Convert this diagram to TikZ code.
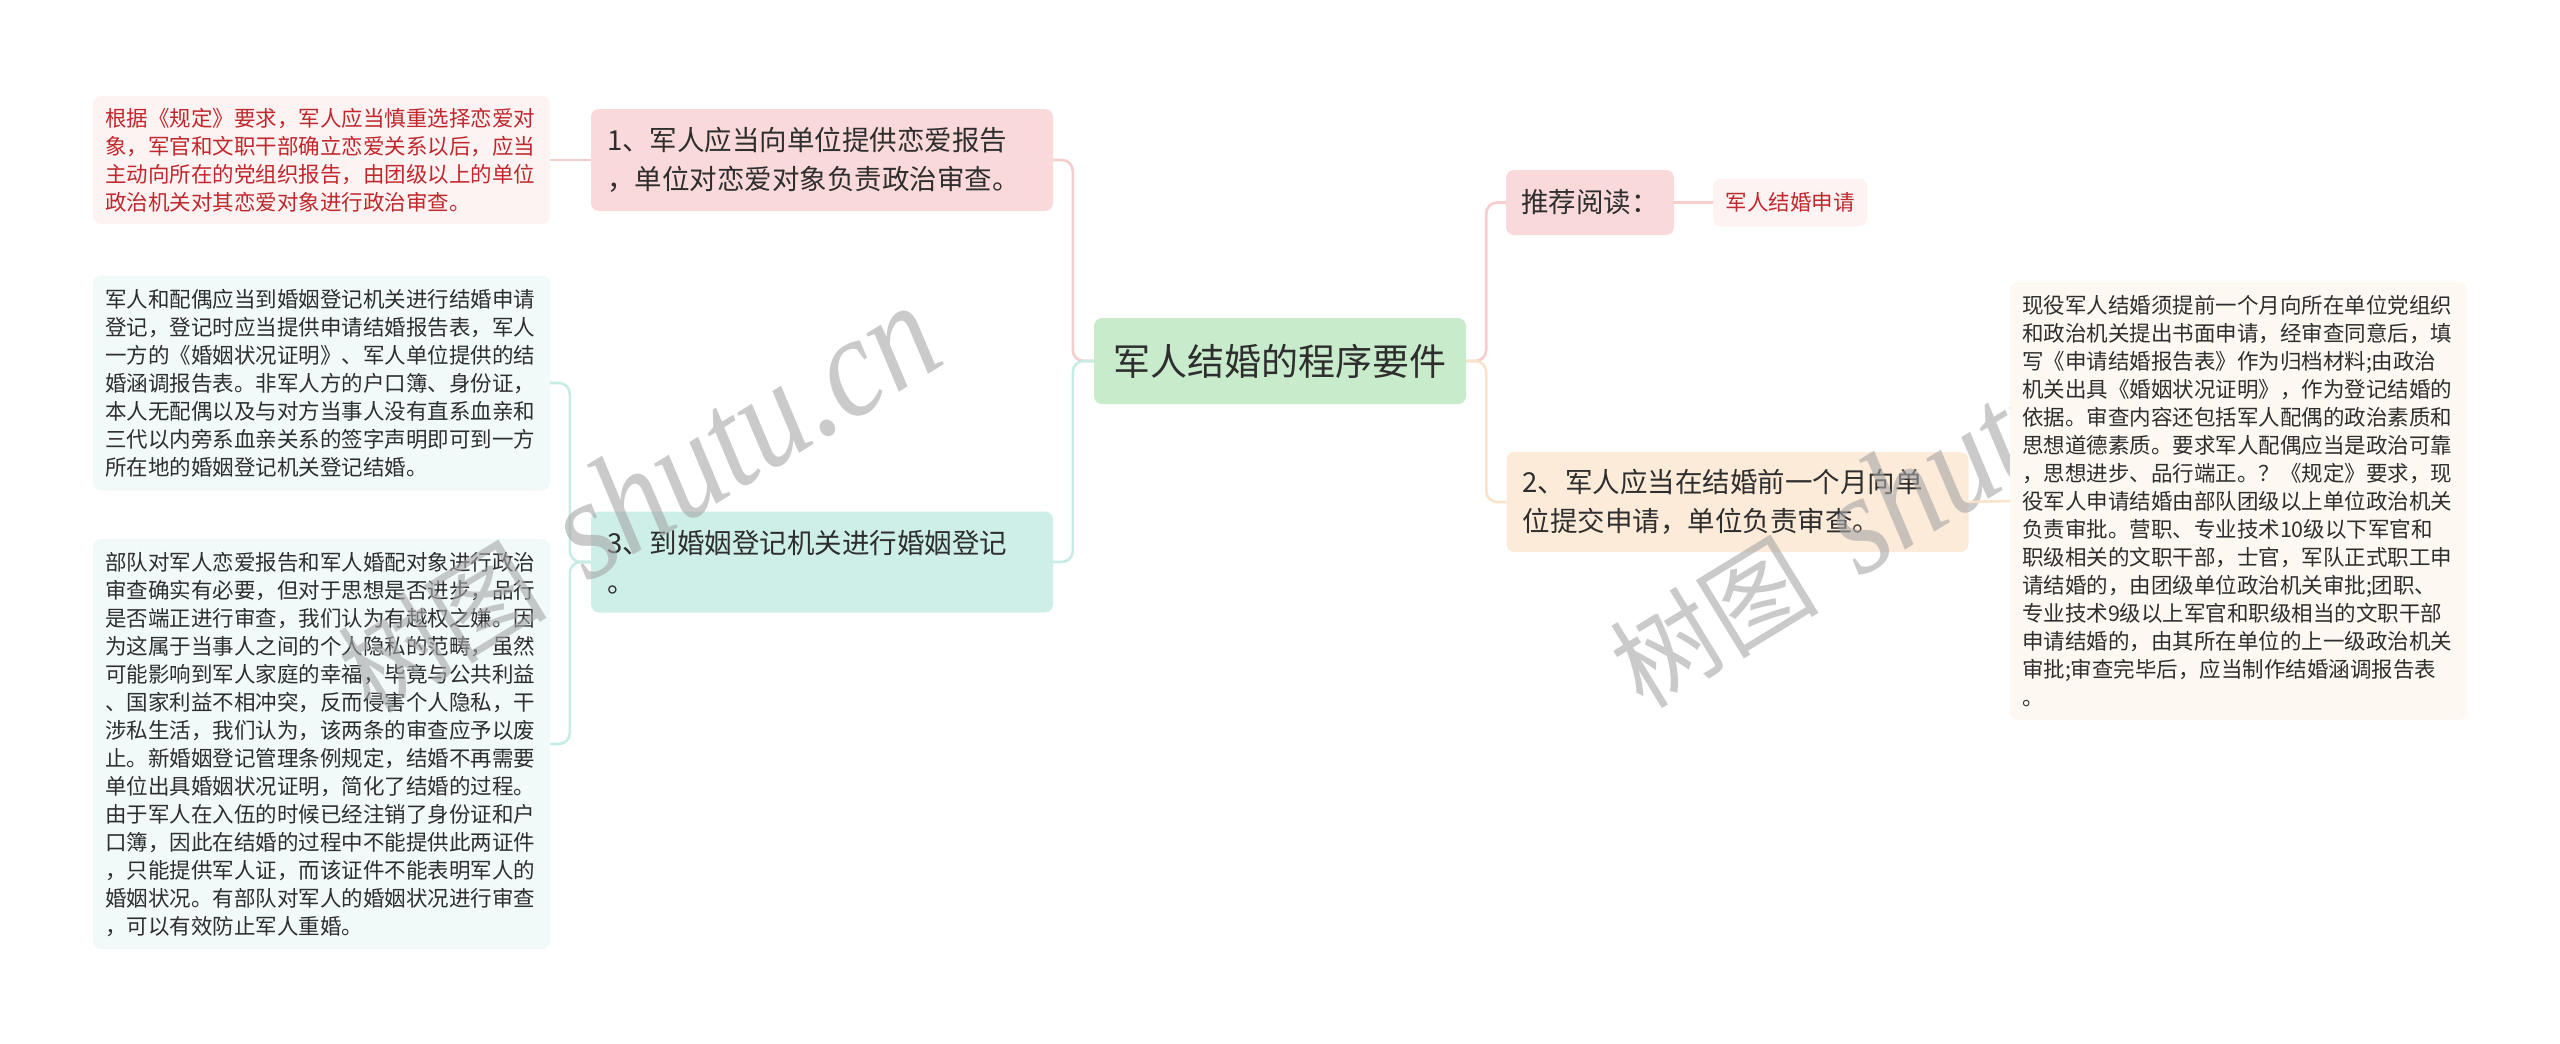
\documentclass[tikz,border=0pt]{standalone}
\usepackage{fontspec}
\setmainfont{Noto Sans CJK SC}
\newfontfamily\wmserif{Liberation Serif}
\usetikzlibrary{calc}
\definecolor{txt}{HTML}{2E2E2E}
\definecolor{redtxt}{HTML}{C0282D}
\definecolor{cfill}{HTML}{C8EBCC}
\definecolor{pinkfill}{HTML}{F9D9D9}
\definecolor{pinkleaf}{HTML}{FDF3F3}
\definecolor{tealfill}{HTML}{CDEFE8}
\definecolor{tealleaf}{HTML}{F1F9F9}
\definecolor{peachfill}{HTML}{FDEBD9}
\definecolor{peachleaf}{HTML}{FDF9F2}
\definecolor{pinkline}{HTML}{F6CDCD}
\definecolor{tealline}{HTML}{C6ECE5}
\definecolor{peachline}{HTML}{FBE3CB}
\newcommand{\wmtext}{{\fontsize{105pt}{105pt}\selectfont 树图}\hspace{44pt}\scalebox{1}[1.15]{\wmserif\itshape\fontsize{126pt}{126pt}\selectfont shutu.cn}}
\begin{document}
\begin{tikzpicture}[x=1pt,y=-1pt,
  box/.style={rounded corners=8pt, inner ysep=0pt, text=txt},
  leafbox/.style={box, inner xsep=12pt, align=left, text width=433pt,
    font=\fontsize{21.5pt}{28pt}\selectfont},
  mainbox/.style={box, inner xsep=16pt, align=left, text width=430pt,
    font=\fontsize{27.5pt}{39pt}\selectfont},
  conn/.style={line width=2.6pt, rounded corners=11pt},
  wm/.style={text=gray!70, opacity=0.6, rotate=31.5, inner sep=0pt, anchor=base west}
]
\useasboundingbox (0,0) rectangle (2560,1044);

% central
\node[box, fill=cfill, minimum width=372pt, minimum height=86pt,
  font=\fontsize{37pt}{44pt}\selectfont] (c) at (1280,361) {军人结婚的程序要件};

% left main branches
\node[mainbox, fill=pinkfill, minimum height=102pt] (n1) at (822,160)
  {1、军人应当向单位提供恋爱报告\\，单位对恋爱对象负责政治审查。};
\node[mainbox, fill=tealfill, minimum height=101pt] (n3) at (822,562)
  {3、到婚姻登记机关进行婚姻登记\\。};

% left leaves
\node[leafbox, fill=pinkleaf, text=redtxt, minimum height=128pt] (l1) at (321.5,160)
  {根据《规定》要求，军人应当慎重选择恋爱对\\象，军官和文职干部确立恋爱关系以后，应当\\主动向所在的党组织报告，由团级以上的单位\\政治机关对其恋爱对象进行政治审查。};
\node[leafbox, fill=tealleaf, minimum height=215pt] (l3a) at (321.5,383)
  {军人和配偶应当到婚姻登记机关进行结婚申请\\登记，登记时应当提供申请结婚报告表，军人\\一方的《婚姻状况证明》、军人单位提供的结\\婚涵调报告表。非军人方的户口簿、身份证，\\本人无配偶以及与对方当事人没有直系血亲和\\三代以内旁系血亲关系的签字声明即可到一方\\所在地的婚姻登记机关登记结婚。};
\node[leafbox, fill=tealleaf, minimum height=410pt] (l3b) at (321.5,744)
  {部队对军人恋爱报告和军人婚配对象进行政治\\审查确实有必要，但对于思想是否进步，品行\\是否端正进行审查，我们认为有越权之嫌。因\\为这属于当事人之间的个人隐私的范畴，虽然\\可能影响到军人家庭的幸福，毕竟与公共利益\\、国家利益不相冲突，反而侵害个人隐私，干\\涉私生活，我们认为，该两条的审查应予以废\\止。新婚姻登记管理条例规定，结婚不再需要\\单位出具婚姻状况证明，简化了结婚的过程。\\由于军人在入伍的时候已经注销了身份证和户\\口簿，因此在结婚的过程中不能提供此两证件\\，只能提供军人证，而该证件不能表明军人的\\婚姻状况。有部队对军人的婚姻状况进行审查\\，可以有效防止军人重婚。};

% right main branches
\node[box, fill=pinkfill, minimum width=168pt, minimum height=65pt,
  font=\fontsize{27.5pt}{39pt}\selectfont] (rec) at (1590,202.5) {推荐阅读：};
\node[box, fill=pinkleaf, text=redtxt, minimum width=154pt, minimum height=48pt,
  font=\fontsize{21.5pt}{28pt}\selectfont] (rl) at (1790,202.5) {军人结婚申请};
\node[mainbox, fill=peachfill, minimum height=100pt] (n2) at (1737.5,502)
  {2、军人应当在结婚前一个月向单\\位提交申请，单位负责审查。};

% connectors
\draw[conn, pinkline] (c.west) -- ($(c.west)+(-21,0)$) |- (n1.east);
\draw[conn, tealline] (c.west) -- ($(c.west)+(-21,0)$) |- (n3.east);
\draw[conn, pinkline] (n1.west) -- (l1.east);
\draw[conn, tealline] (n3.west) -- ($(n3.west)+(-21,0)$) |- (l3a.east);
\draw[conn, tealline] (n3.west) -- ($(n3.west)+(-21,0)$) |- (l3b.east);
\draw[conn, pinkline] (c.east) -- ($(c.east)+(20,0)$) |- (rec.west);
\draw[conn, peachline] (c.east) -- ($(c.east)+(20,0)$) |- (n2.west);
\draw[conn, pinkline] (rec.east) -- (rl.west);

% watermarks
\node[wm] (wmL) at (371,716) {\wmtext};
\node[wm] (wmR) at (1643,711) {\wmtext};

% right leaf (drawn over the right watermark)
\node[leafbox, fill=peachleaf, minimum height=438pt] (l2) at (2238.5,501)
  {现役军人结婚须提前一个月向所在单位党组织\\和政治机关提出书面申请，经审查同意后，填\\写《申请结婚报告表》作为归档材料;由政治\\机关出具《婚姻状况证明》，作为登记结婚的\\依据。审查内容还包括军人配偶的政治素质和\\思想道德素质。要求军人配偶应当是政治可靠\\，思想进步、品行端正。？《规定》要求，现\\役军人申请结婚由部队团级以上单位政治机关\\负责审批。营职、专业技术10级以下军官和\\职级相关的文职干部，士官，军队正式职工申\\请结婚的，由团级单位政治机关审批;团职、\\专业技术9级以上军官和职级相当的文职干部\\申请结婚的，由其所在单位的上一级政治机关\\审批;审查完毕后，应当制作结婚涵调报告表\\。};
\draw[conn, peachline] (n2.east) -- (l2.west);
\end{tikzpicture}
\end{document}
